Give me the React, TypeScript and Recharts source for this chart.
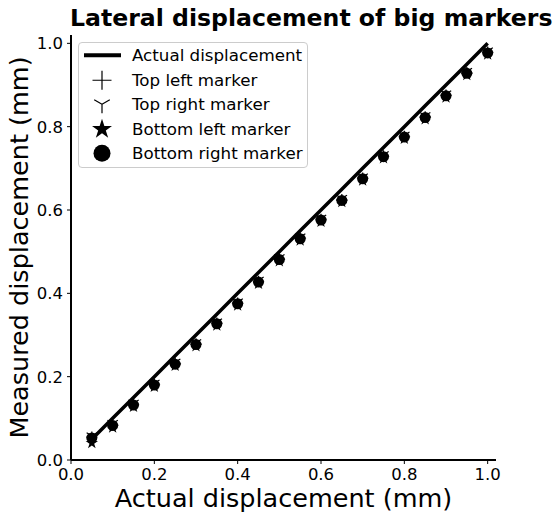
import React from "react";
import { ComposedChart, Line, Scatter, XAxis, YAxis, Legend } from "recharts";

// actual displacement steps (mm)
const displacement = [0.05, 0.1, 0.15, 0.2, 0.25, 0.3, 0.35, 0.4, 0.45, 0.5, 0.55, 0.6, 0.65, 0.7, 0.75, 0.8, 0.85, 0.9, 0.95, 1.0];
const actual = [0.05, 0.1, 0.15, 0.2, 0.25, 0.3, 0.35, 0.4, 0.45, 0.5, 0.55, 0.6, 0.65, 0.7, 0.75, 0.8, 0.85, 0.9, 0.95, 1.0];

// measured displacement per marker (mm)
const topLeft = [0.055, 0.085, 0.134, 0.182, 0.232, 0.279, 0.329, 0.377, 0.429, 0.483, 0.533, 0.578, 0.625, 0.677, 0.73, 0.777, 0.824, 0.876, 0.93, 0.979];
const topRight = [0.058, 0.088, 0.137, 0.185, 0.235, 0.282, 0.332, 0.38, 0.432, 0.486, 0.536, 0.581, 0.628, 0.68, 0.733, 0.78, 0.827, 0.879, 0.933, 0.982];
const bottomLeft = [0.041, 0.078, 0.128, 0.176, 0.226, 0.273, 0.323, 0.371, 0.423, 0.477, 0.527, 0.572, 0.619, 0.671, 0.724, 0.771, 0.818, 0.87, 0.924, 0.973];
const bottomRight = [0.053, 0.083, 0.132, 0.18, 0.23, 0.277, 0.327, 0.375, 0.427, 0.481, 0.531, 0.576, 0.623, 0.675, 0.728, 0.775, 0.822, 0.874, 0.928, 0.977];

const ticks = [0, 0.2, 0.4, 0.6, 0.8, 1.0];

const FONT = "'DejaVu Sans', sans-serif";

const rows = displacement.map((x, i) => ({
  x,
  actual: actual[i],
  tl: topLeft[i],
  tr: topRight[i],
  bl: bottomLeft[i],
  br: bottomRight[i],
}));

function PlusMark({ cx, cy, r }: any) {
  return <path d={`M${cx - r},${cy}H${cx + r}M${cx},${cy - r}V${cy + r}`} stroke="#000" strokeWidth={1.2} fill="none" />;
}

function TriMark({ cx, cy, r }: any) {
  const dx = r * 0.866;
  const dy = r * 0.5;
  return (
    <path
      d={`M${cx},${cy}L${cx},${cy + r}M${cx},${cy}L${cx - dx},${cy - dy}M${cx},${cy}L${cx + dx},${cy - dy}`}
      stroke="#000"
      strokeWidth={1.2}
      fill="none"
    />
  );
}

function StarMark({ cx, cy, r }: any) {
  const pts: string[] = [];
  for (let k = 0; k < 10; k++) {
    const rad = k % 2 === 0 ? r : r * 0.382;
    const a = -Math.PI / 2 + (k * Math.PI) / 5;
    pts.push(`${cx + rad * Math.cos(a)},${cy + rad * Math.sin(a)}`);
  }
  return <polygon points={pts.join(" ")} fill="#000" />;
}

function DotMark({ cx, cy, r }: any) {
  return <circle cx={cx} cy={cy} r={r} fill="#000" />;
}

const legendItems = [
  { name: "Actual displacement", icon: (cx: number, cy: number) => <line x1={5} x2={42} y1={cy} y2={cy} stroke="#000" strokeWidth={4} /> },
  { name: "Top left marker", icon: (cx: number, cy: number) => <PlusMark cx={cx} cy={cy} r={9.5} /> },
  { name: "Top right marker", icon: (cx: number, cy: number) => <TriMark cx={cx} cy={cy} r={9} /> },
  { name: "Bottom left marker", icon: (cx: number, cy: number) => <StarMark cx={cx} cy={cy} r={10.5} /> },
  { name: "Bottom right marker", icon: (cx: number, cy: number) => <DotMark cx={cx} cy={cy} r={8.5} /> },
];

const renderLegend = () => (
  <div
    style={{
      width: 230,
      height: 126,
      boxSizing: "border-box",
      border: "1px solid #cccccc",
      borderRadius: 4,
      background: "rgba(255,255,255,0.8)",
      fontFamily: FONT,
      fontSize: 16.7,
      color: "#000",
    }}
  >
    {legendItems.map((item) => (
      <div key={item.name} style={{ display: "flex", alignItems: "center", height: 24.5 }}>
        <svg width={53} height={24.5} style={{ flex: "none", overflow: "visible" }}>
          {item.icon(23, 12.25)}
        </svg>
        <span style={{ whiteSpace: "nowrap", lineHeight: "24.5px" }}>{item.name}</span>
      </div>
    ))}
  </div>
);

export default function App() {
  const tickStyle = { fill: "#000", fontSize: 16.5, fontFamily: FONT };
  return (
    <div style={{ position: "absolute", left: 0, top: 0, width: 560, height: 513, background: "#fff" }}>
      <div
        style={{
          position: "absolute",
          left: 70,
          top: 7,
          fontFamily: FONT,
          fontWeight: "bold",
          fontSize: 23.6,
          lineHeight: 1,
          whiteSpace: "nowrap",
          color: "#000",
          zIndex: 2,
        }}
      >
        Lateral displacement of big markers
      </div>
      <ComposedChart width={560} height={513} data={rows} margin={{ top: 35, right: 64, bottom: 0, left: 0 }}>
        <XAxis
          type="number"
          dataKey="x"
          domain={[0, 1.02]}
          ticks={ticks}
          allowDataOverflow
          tickFormatter={(v: number) => v.toFixed(1)}
          tick={tickStyle}
          tickSize={4}
          tickMargin={4}
          tickLine={{ stroke: "#000", strokeWidth: 1 }}
          axisLine={{ stroke: "#000", strokeWidth: 2 }}
          height={53}
          label={{ value: "Actual displacement (mm)", position: "insideBottom", offset: 6, fill: "#000", fontSize: 25.5, fontFamily: FONT }}
        />
        <YAxis
          type="number"
          domain={[0, 1.02]}
          ticks={ticks}
          allowDataOverflow
          tickFormatter={(v: number) => v.toFixed(1)}
          tick={tickStyle}
          tickSize={4}
          tickMargin={4}
          tickLine={{ stroke: "#000", strokeWidth: 1 }}
          axisLine={{ stroke: "#000", strokeWidth: 2 }}
          width={71}
          label={{
            value: "Measured displacement (mm)",
            angle: -90,
            position: "insideLeft",
            offset: 19,
            textAnchor: "middle",
            fill: "#000",
            fontSize: 25.5,
            fontFamily: FONT,
          }}
        />
        <Legend
          layout="vertical"
          align="center"
          verticalAlign="middle"
          wrapperStyle={{ left: 78, top: 42, width: 230, height: 126 }}
          content={renderLegend}
        />
        <Line
          dataKey="actual"
          name="Actual displacement"
          type="linear"
          stroke="#000"
          strokeWidth={3.5}
          dot={false}
          isAnimationActive={false}
        />
        <Scatter dataKey="tl" name="Top left marker" isAnimationActive={false} shape={(p: any) => <PlusMark cx={p.cx} cy={p.cy} r={5.5} />} />
        <Scatter dataKey="tr" name="Top right marker" isAnimationActive={false} shape={(p: any) => <TriMark cx={p.cx} cy={p.cy} r={6} />} />
        <Scatter dataKey="bl" name="Bottom left marker" isAnimationActive={false} shape={(p: any) => <StarMark cx={p.cx} cy={p.cy} r={6.5} />} />
        <Scatter dataKey="br" name="Bottom right marker" isAnimationActive={false} shape={(p: any) => <DotMark cx={p.cx} cy={p.cy} r={5.5} />} />
      </ComposedChart>
    </div>
  );
}
